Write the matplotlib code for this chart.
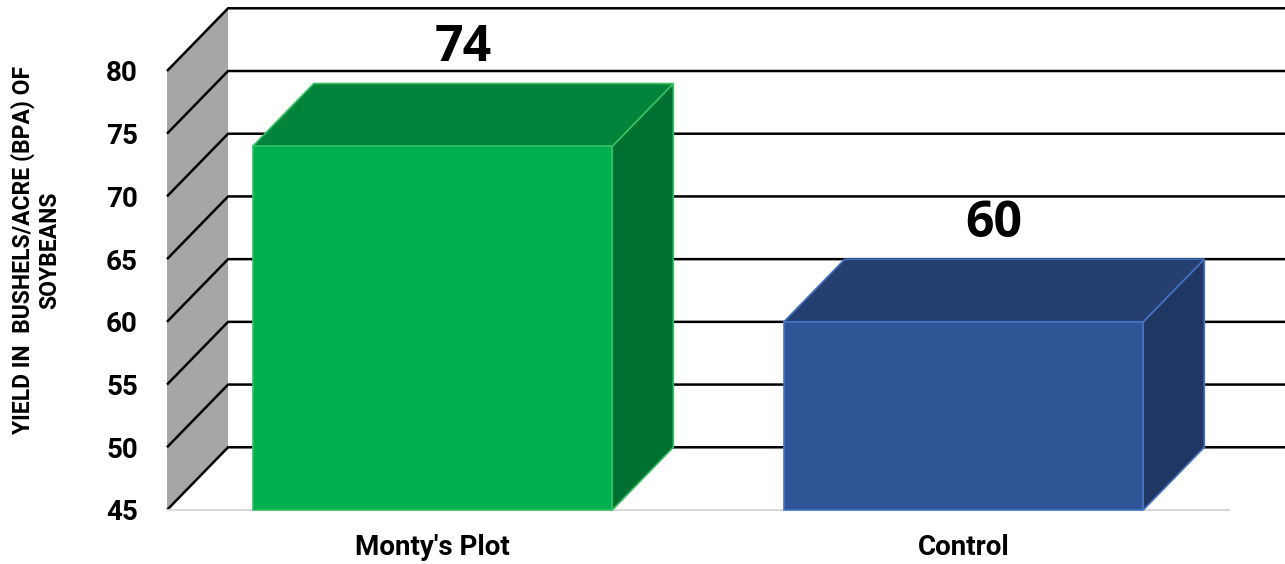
import numpy as np
import matplotlib.pyplot as plt
from matplotlib.patches import Polygon

categories = ["Monty's Plot", "Control"]
values = [74, 60]
yticks = [45, 50, 55, 60, 65, 70, 75, 80]
ylabel = "YIELD IN  BUSHELS/ACRE (BPA) OF\nSOYBEANS"

# colours: front, top, side, edge
green = ("#00B050", "#00843C", "#007030", "#33C060")
blue = ("#2F5597", "#243F70", "#1F3762", "#4472C4")
styles = [green, blue]

fig = plt.figure(figsize=(12.85, 5.64), dpi=100)
ax = fig.add_axes([167 / 1285, 54 / 564, 1062 / 1285, 439 / 564])
ax.set_xlim(-0.5, 1.5)
ax.set_ylim(45, 80)

dx = 0.115   # depth in x units
dy = 5       # depth in y units
x0, x1 = -0.5, 1.5
ymin, ymax = 45, 80

# grey side wall
wall = Polygon([(x0, ymin), (x0 + dx, ymin + dy), (x0 + dx, ymax + dy), (x0, ymax)],
               closed=True, facecolor="#A6A6A6", edgecolor="none", clip_on=False, zorder=1)
ax.add_patch(wall)

# gridlines: diagonal on the wall, then across the back
for v in yticks:
    ax.plot([x0, x0 + dx, x1 + dx + 0.1], [v, v + dy, v + dy], color="black",
            lw=1.8, clip_on=False, zorder=2, solid_capstyle="butt")

# floor line
ax.plot([x0, x1], [ymin, ymin], color="#D9D9D9", lw=1.5, clip_on=False, zorder=2)

width = 0.677
ind = np.arange(len(categories))
for i, (xc, v) in enumerate(zip(ind, values)):
    front, top, side, edge = styles[i]
    l, r = xc - width / 2, xc + width / 2
    ax.add_patch(Polygon([(r, ymin), (r + dx, ymin + dy), (r + dx, v + dy), (r, v)],
                         facecolor=side, edgecolor=edge, lw=1.2, zorder=3, clip_on=False))
    ax.add_patch(Polygon([(l, v), (l + dx, v + dy), (r + dx, v + dy), (r, v)],
                         facecolor=top, edgecolor=edge, lw=1.2, zorder=3, clip_on=False))
    ax.add_patch(Polygon([(l, ymin), (l, v), (r, v), (r, ymin)],
                         facecolor=front, edgecolor=edge, lw=1.2, zorder=4, clip_on=False))
    ax.text(xc + dx / 2, v + dy + 1.8, str(v), ha="center", va="baseline",
            fontsize=36, fontweight="bold", family="Open Sans", zorder=5)

for s in ax.spines.values():
    s.set_visible(False)
ax.set_yticks(yticks)
ax.set_yticklabels([str(t) for t in yticks], fontsize=20, fontweight="bold", family="Roboto")
ax.set_xticks(ind)
ax.set_xticklabels(categories, fontsize=20, fontweight="bold", family="Roboto")
ax.tick_params(axis="y", length=0, pad=21)
ax.tick_params(axis="x", length=0, pad=17)

fig.text(36 / 1285, 1 - 250 / 564, ylabel, rotation=90, ha="center", va="center",
         multialignment="center", fontsize=16.5, fontweight="bold", family="Roboto")

fig.savefig("out.png", dpi=100)
